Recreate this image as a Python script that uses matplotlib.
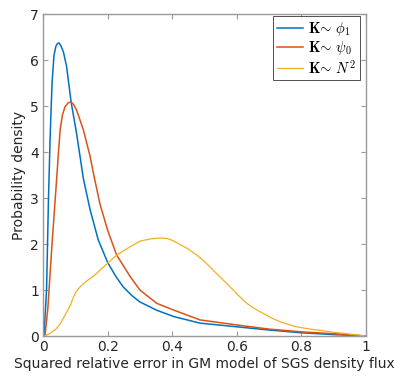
import matplotlib
matplotlib.use("Agg")
import matplotlib.pyplot as plt

# Data
x_phi = [0, 0.003, 0.011, 0.017, 0.022, 0.028, 0.034, 0.040, 0.045, 0.050, 0.056, 0.063, 0.073, 0.087, 0.104, 0.125,
         0.146, 0.171, 0.2, 0.225, 0.248, 0.275, 0.3, 0.352, 0.406, 0.486, 0.6, 0.7, 0.8, 0.9, 1.0]
y_phi = [0, 0.0, 1.0, 3.0, 4.3, 5.5, 6.1, 6.3, 6.36, 6.37, 6.3, 6.18, 5.86, 5.09, 4.4, 3.42,
         2.74, 2.09, 1.6, 1.3, 1.07, 0.88, 0.74, 0.56, 0.42, 0.28, 0.2, 0.13, 0.07, 0.03, 0.0]

x_psi = [0, 0.006, 0.015, 0.027, 0.037, 0.042, 0.048, 0.053, 0.06, 0.068, 0.078, 0.087, 0.095, 0.104, 0.125, 0.146,
         0.156, 0.176, 0.2, 0.228, 0.27, 0.3, 0.352, 0.406, 0.486, 0.6, 0.7, 0.8, 0.9, 1.0]
y_psi = [0, 0.0, 0.6, 1.9, 2.9, 3.39, 4.0, 4.48, 4.8, 4.98, 5.07, 5.09, 5.03, 4.91, 4.48, 3.9,
         3.54, 2.88, 2.3, 1.76, 1.29, 1.0, 0.71, 0.56, 0.35, 0.24, 0.15, 0.09, 0.05, 0.0]

x_n2 = [0, 0.006, 0.022, 0.04, 0.053, 0.068, 0.084, 0.094, 0.104, 0.115, 0.125, 0.14, 0.156, 0.175, 0.197, 0.228,
        0.27, 0.3, 0.331, 0.362, 0.385, 0.403, 0.424, 0.445, 0.476, 0.5, 0.527, 0.553, 0.579, 0.605, 0.631, 0.656,
        0.682, 0.708, 0.734, 0.76, 0.785, 0.81, 0.837, 0.863, 0.889, 0.915, 0.94, 0.965, 1.0]
y_n2 = [0, 0.0, 0.06, 0.15, 0.26, 0.45, 0.66, 0.84, 0.98, 1.07, 1.14, 1.22, 1.3, 1.42, 1.56, 1.76,
        1.94, 2.06, 2.11, 2.13, 2.12, 2.07, 1.99, 1.91, 1.76, 1.62, 1.43, 1.25, 1.07, 0.88, 0.71, 0.59,
        0.49, 0.39, 0.31, 0.25, 0.2, 0.17, 0.14, 0.12, 0.09, 0.07, 0.05, 0.03, 0.0]

labels = [r"$\mathbf{K}\!\sim\,\phi_1$", r"$\mathbf{K}\!\sim\,\psi_0$", r"$\mathbf{K}\!\sim\,N^2$"]
colors = ["#0072BD", "#D95319", "#EDB120"]
widths = [1.1, 1.1, 0.9]

x_ticks = [0, 0.2, 0.4, 0.6, 0.8, 1]
x_ticklabels = ["0", "0.2", "0.4", "0.6", "0.8", "1"]
y_ticks = [0, 1, 2, 3, 4, 5, 6, 7]

plt.rcParams["font.family"] = ["DejaVu Sans"]
plt.rcParams["mathtext.fontset"] = "cm"

fig = plt.figure(figsize=(4.0, 3.77), dpi=100)
ax = fig.add_axes([43/400, 1-336/377, 323/400, 322/377])

for xs, ys, c, lw, lab in zip([x_phi, x_psi, x_n2], [y_phi, y_psi, y_n2], colors, widths, labels):
    ax.plot(xs, ys, color=c, lw=lw, label=lab)

ax.set_xlim(0, 1)
ax.set_ylim(0, 7)
ax.set_xticks(x_ticks)
ax.set_xticklabels(x_ticklabels)
ax.set_yticks(y_ticks)
edge = "#262626"
spine = "#9a9a9a"
for s in ax.spines.values():
    s.set_color(spine)
    s.set_linewidth(1.0)
ax.tick_params(direction="in", top=True, right=True, length=3.5, width=0.8,
               color=spine, labelcolor=edge, labelsize=10, pad=3)
ax.set_xlabel("Squared relative error in GM model of SGS density flux", fontsize=10, color=edge, labelpad=2)
ax.set_ylabel("Probability density", fontsize=10, color=edge, labelpad=3)

leg = ax.legend(loc="upper right", fontsize=10.5, frameon=True, fancybox=False,
                bbox_to_anchor=(360/400, 1-16/377), bbox_transform=fig.transFigure,
                borderaxespad=0.0, handlelength=1.8, handletextpad=0.35,
                labelspacing=0.1, borderpad=0.25)
leg.get_frame().set_edgecolor(edge)
leg.get_frame().set_linewidth(0.7)

fig.savefig("out.png", dpi=100)
